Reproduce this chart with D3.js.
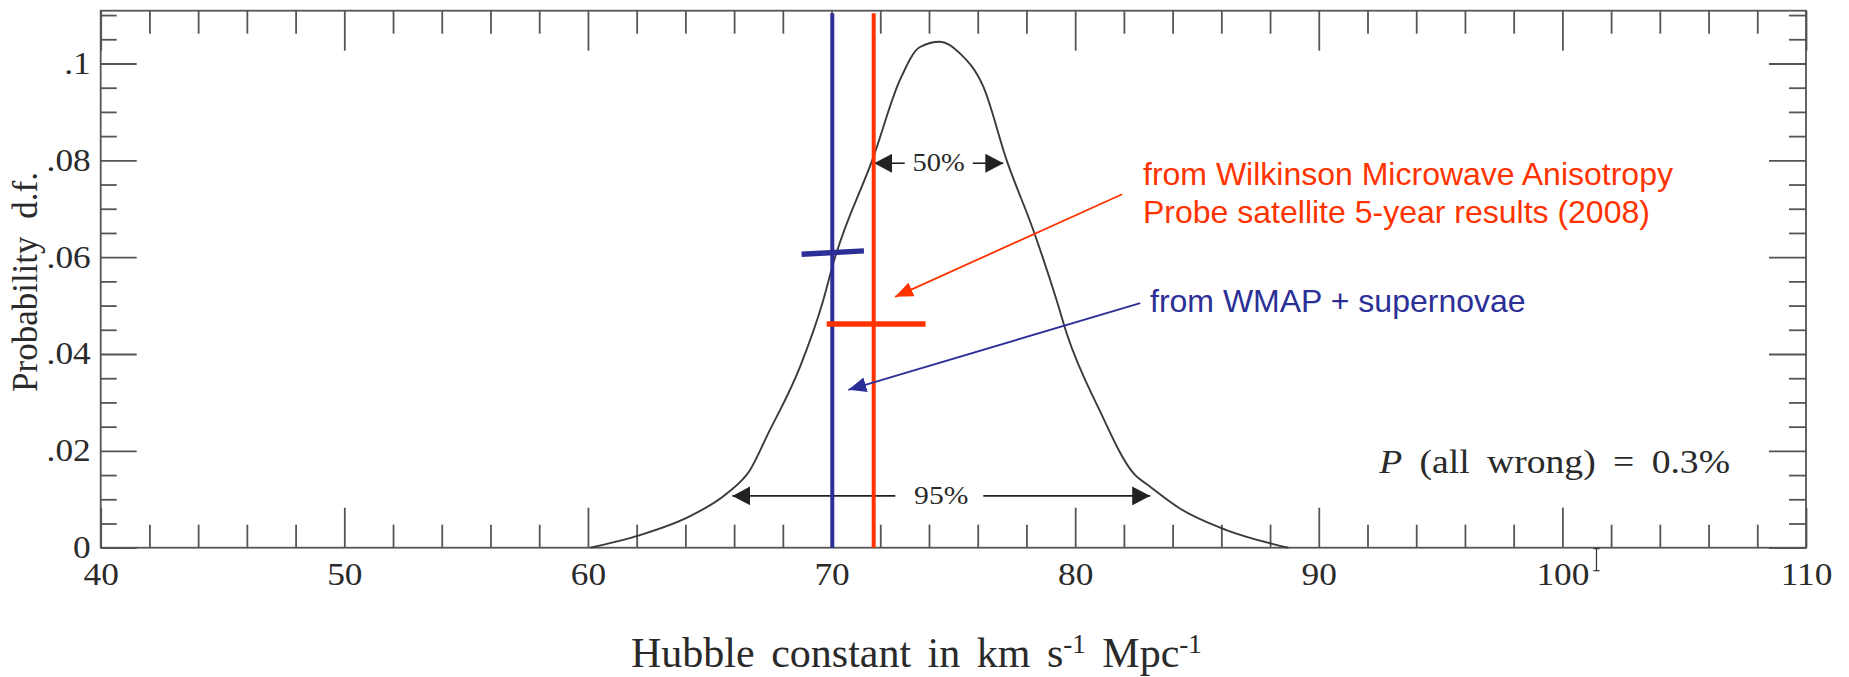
<!DOCTYPE html>
<html>
<head>
<meta charset="utf-8">
<script src="https://cdn.jsdelivr.net/npm/d3@7"></script>
<style>
  html, body { margin: 0; padding: 0; background: #fff; }
  svg { display: block; }
  .serif { font-family: "Liberation Serif", "Times New Roman", serif; fill: #2a2a2a; }
  .sans { font-family: "Liberation Sans", Arial, sans-serif; }
</style>
</head>
<body>
<svg id="chart" width="1849" height="677"></svg>
<script>
// ---------- data ----------
const curveX = [60.1, 62.14, 64.15, 65.7, 66.65, 67.4, 68.71, 69.66, 70.07, 71.72, 72.8, 73.63, 74.45, 75.27, 76.23, 77.19, 78.28, 79.24, 79.65, 81.0, 82.39, 83.08, 84.3, 86.18, 88.09, 88.75];
const curveY = [0, 0.0026, 0.0064, 0.0112, 0.016, 0.0236, 0.0374, 0.0511, 0.0587, 0.0807, 0.0965, 0.1034, 0.1045, 0.1021, 0.0952, 0.080, 0.0656, 0.0511, 0.0443, 0.0284, 0.0154, 0.0126, 0.0081, 0.0037, 0.0008, 0];

const xMajorTicks = [40, 50, 60, 70, 80, 90, 100, 110];
const xTickLabels = ["40", "50", "60", "70", "80", "90", "100", "110"];
const yMajorTicks = [0, 0.02, 0.04, 0.06, 0.08, 0.1];
const yTickLabels = ["0", ".02", ".04", ".06", ".08", ".1"];

// measurements
const wmapH0 = 70.03;               // blue: WMAP + supernovae
const wmapBar = [68.77, 71.33];
const wmapBarY = [0.0606, 0.0613];
const wmap5H0 = 71.73;              // red: WMAP 5-year
const wmap5Bar = [69.8, 73.86];
const wmap5BarY = 0.0462;

// confidence intervals
const ci50 = [71.75, 77.05], ci50Y = 0.0794;
const ci95 = [65.93, 83.08], ci95Y = 0.0107;

// annotation arrows [x0, y0, x1(tip), y1(tip)]
const redArrow = [81.93, 0.0730, 72.61, 0.0518];
const blueArrow = [82.67, 0.0505, 70.69, 0.0326];

const redText = ["from Wilkinson Microwave Anisotropy", "Probe satellite 5-year results (2008)"];
const blueText = "from WMAP + supernovae";

// ---------- layout ----------
const W = 1849, H = 677;
const m = { left: 100.7, top: 10.7, right: 1849 - 1806, bottom: 677 - 547.7 };
const iw = W - m.left - m.right, ih = H - m.top - m.bottom;
const stretch = 1.14; // reference serif glyphs are horizontally widened

const svg = d3.select("#chart");
const g = svg.append("g").attr("transform", `translate(${m.left},${m.top})`);

const x = d3.scaleLinear().domain([40, 110]).range([0, iw]);
const y = d3.scaleLinear().domain([0, 0.1109]).range([ih, 0]);

const xMinor = d3.range(40, 110.001, 2).filter(v => !xMajorTicks.includes(v));
const yMinor = d3.range(0, 0.1101, 0.005).map(v => +v.toFixed(3)).filter(v => !yMajorTicks.some(t => Math.abs(t - v) < 1e-6));

const axisColor = "#555";
function styleAxis(sel) {
  sel.select(".domain").remove();
  sel.selectAll(".tick line").attr("stroke", axisColor).attr("stroke-width", 1.8);
}

// bottom
g.append("g").attr("transform", `translate(0,${ih})`)
  .call(d3.axisBottom(x).tickValues(xMinor).tickSize(-23).tickFormat(""))
  .call(styleAxis);
g.append("g").attr("transform", `translate(0,${ih})`)
  .call(d3.axisBottom(x).tickValues(xMajorTicks).tickSize(-40).tickPadding(15)
        .tickFormat((d, i) => xTickLabels[i]))
  .call(styleAxis)
  .call(s => s.selectAll(".tick text").attr("class", "serif").attr("font-size", 31).attr("fill", "#2a2a2a")
    .attr("transform", `scale(${stretch},1)`));
// top
g.append("g")
  .call(d3.axisTop(x).tickValues(xMinor).tickSize(-23).tickFormat(""))
  .call(styleAxis);
g.append("g")
  .call(d3.axisTop(x).tickValues(xMajorTicks).tickSize(-40).tickFormat(""))
  .call(styleAxis);
// left
g.append("g")
  .call(d3.axisLeft(y).tickValues(yMinor).tickSize(-16).tickFormat(""))
  .call(styleAxis);
g.append("g")
  .call(d3.axisLeft(y).tickValues(yMajorTicks).tickSize(-36).tickPadding(10)
        .tickFormat((d, i) => yTickLabels[i]))
  .call(styleAxis)
  .call(s => s.selectAll(".tick text").attr("class", "serif").attr("font-size", 31).attr("fill", "#2a2a2a")
    .attr("x", -10 / stretch).attr("transform", `scale(${stretch},1)`));
// right
g.append("g").attr("transform", `translate(${iw},0)`)
  .call(d3.axisRight(y).tickValues(yMinor).tickSize(-17).tickFormat(""))
  .call(styleAxis);
g.append("g").attr("transform", `translate(${iw},0)`)
  .call(d3.axisRight(y).tickValues(yMajorTicks).tickSize(-37).tickFormat(""))
  .call(styleAxis);

// frame
g.append("rect").attr("x", 0).attr("y", 0).attr("width", iw).attr("height", ih)
  .attr("fill", "none").attr("stroke", axisColor).attr("stroke-width", 1.8);

// ---------- curve ----------
const pts = curveX.map((v, i) => [v, curveY[i]]);
g.append("path").datum(pts)
  .attr("fill", "none").attr("stroke", "#3a3a3a").attr("stroke-width", 1.9)
  .attr("d", d3.line().x(d => x(d[0])).y(d => y(d[1])).curve(d3.curveMonotoneX));

// ---------- arrowheads ----------
const defs = svg.append("defs");
function marker(id, color, w, h) {
  defs.append("marker").attr("id", id)
    .attr("viewBox", `0 0 ${w} ${h}`).attr("refX", w).attr("refY", h / 2)
    .attr("markerWidth", w).attr("markerHeight", h).attr("markerUnits", "userSpaceOnUse")
    .attr("orient", "auto")
    .append("path").attr("d", `M0,0L${w},${h / 2}L0,${h}Z`).attr("fill", color);
}
marker("blackHead", "#222", 18, 19);
marker("redHead", "#ff3300", 18, 15);
marker("blueHead", "#2b2f96", 18, 15);

// interval arrows with text gap
function interval(range, yv, label, gapL, gapR, fs, dyBase) {
  const cx = x((range[0] + range[1]) / 2);
  const yy = y(yv);
  g.append("line").attr("x1", cx - gapL).attr("x2", x(range[0])).attr("y1", yy).attr("y2", yy)
    .attr("stroke", "#222").attr("stroke-width", 1.6).attr("marker-end", "url(#blackHead)");
  g.append("line").attr("x1", cx + gapR).attr("x2", x(range[1])).attr("y1", yy).attr("y2", yy)
    .attr("stroke", "#222").attr("stroke-width", 1.6).attr("marker-end", "url(#blackHead)");
  g.append("text").attr("class", "serif").attr("x", cx / stretch).attr("y", yy + dyBase)
    .attr("transform", `scale(${stretch},1)`)
    .attr("text-anchor", "middle").attr("font-size", fs).text(label);
}
interval(ci50, ci50Y, "50%", 34, 34, 25, 8);
interval(ci95, ci95Y, "95%", 46, 42, 26, 8);

// ---------- measurement lines ----------
const blue = "#2b2f96", red = "#ff3300";
g.append("line").attr("x1", x(wmapH0)).attr("x2", x(wmapH0)).attr("y1", 2.5).attr("y2", ih)
  .attr("stroke", blue).attr("stroke-width", 4);
g.append("line").attr("x1", x(wmapBar[0])).attr("x2", x(wmapBar[1]))
  .attr("y1", y(wmapBarY[0])).attr("y2", y(wmapBarY[1]))
  .attr("stroke", blue).attr("stroke-width", 5.5);
g.append("line").attr("x1", x(wmap5H0)).attr("x2", x(wmap5H0)).attr("y1", 2.5).attr("y2", ih)
  .attr("stroke", red).attr("stroke-width", 4);
g.append("line").attr("x1", x(wmap5Bar[0])).attr("x2", x(wmap5Bar[1]))
  .attr("y1", y(wmap5BarY)).attr("y2", y(wmap5BarY))
  .attr("stroke", red).attr("stroke-width", 5.5);

// ---------- annotation arrows ----------
g.append("line").attr("x1", x(redArrow[0])).attr("y1", y(redArrow[1]))
  .attr("x2", x(redArrow[2])).attr("y2", y(redArrow[3]))
  .attr("stroke", red).attr("stroke-width", 1.8).attr("marker-end", "url(#redHead)");
g.append("line").attr("x1", x(blueArrow[0])).attr("y1", y(blueArrow[1]))
  .attr("x2", x(blueArrow[2])).attr("y2", y(blueArrow[3]))
  .attr("stroke", blue).attr("stroke-width", 1.8).attr("marker-end", "url(#blueHead)");

// ---------- annotation texts ----------
const redT = svg.append("text").attr("class", "sans").attr("fill", red).attr("font-size", 32);
redT.selectAll("tspan").data(redText).join("tspan")
  .attr("x", 1143).attr("y", (d, i) => 185 + i * 38).text(d => d);
svg.append("text").attr("class", "sans").attr("fill", blue).attr("font-size", 32)
  .attr("x", 1150).attr("y", 312).text(blueText);

const pt = svg.append("text").attr("class", "serif").attr("font-size", 33)
  .attr("x", 1730 / stretch).attr("y", 473).attr("text-anchor", "end").attr("word-spacing", 7)
  .attr("transform", `scale(${stretch},1)`);
pt.append("tspan").attr("font-style", "italic").text("P");
pt.append("tspan").text(" (all wrong) = 0.3%");

// ---------- axis titles ----------
const xt = svg.append("text").attr("class", "serif").attr("font-size", 42)
  .attr("x", 631).attr("y", 667).attr("word-spacing", 6);
xt.append("tspan").text("Hubble constant in km s");
xt.append("tspan").attr("font-size", 27).attr("dy", -14).text("-1");
xt.append("tspan").attr("dy", 14).text(" Mpc");
xt.append("tspan").attr("font-size", 27).attr("dy", -14).text("-1");

svg.append("text").attr("class", "serif").attr("font-size", 35).attr("word-spacing", 9)
  .attr("transform", `translate(37,282) rotate(-90)`).attr("text-anchor", "middle")
  .text("Probability d.f.");

// small I-beam cursor artifact near the 100 label
const cx0 = x(101.4) + m.left, cy0 = m.top + ih;
svg.append("path")
  .attr("d", `M${cx0 - 3},${cy0 + 1}H${cx0 + 3}M${cx0},${cy0 + 1}V${cy0 + 23}M${cx0 - 3},${cy0 + 23}H${cx0 + 3}`)
  .attr("stroke", "#333").attr("stroke-width", 1.2).attr("fill", "none");
</script>
</body>
</html>
